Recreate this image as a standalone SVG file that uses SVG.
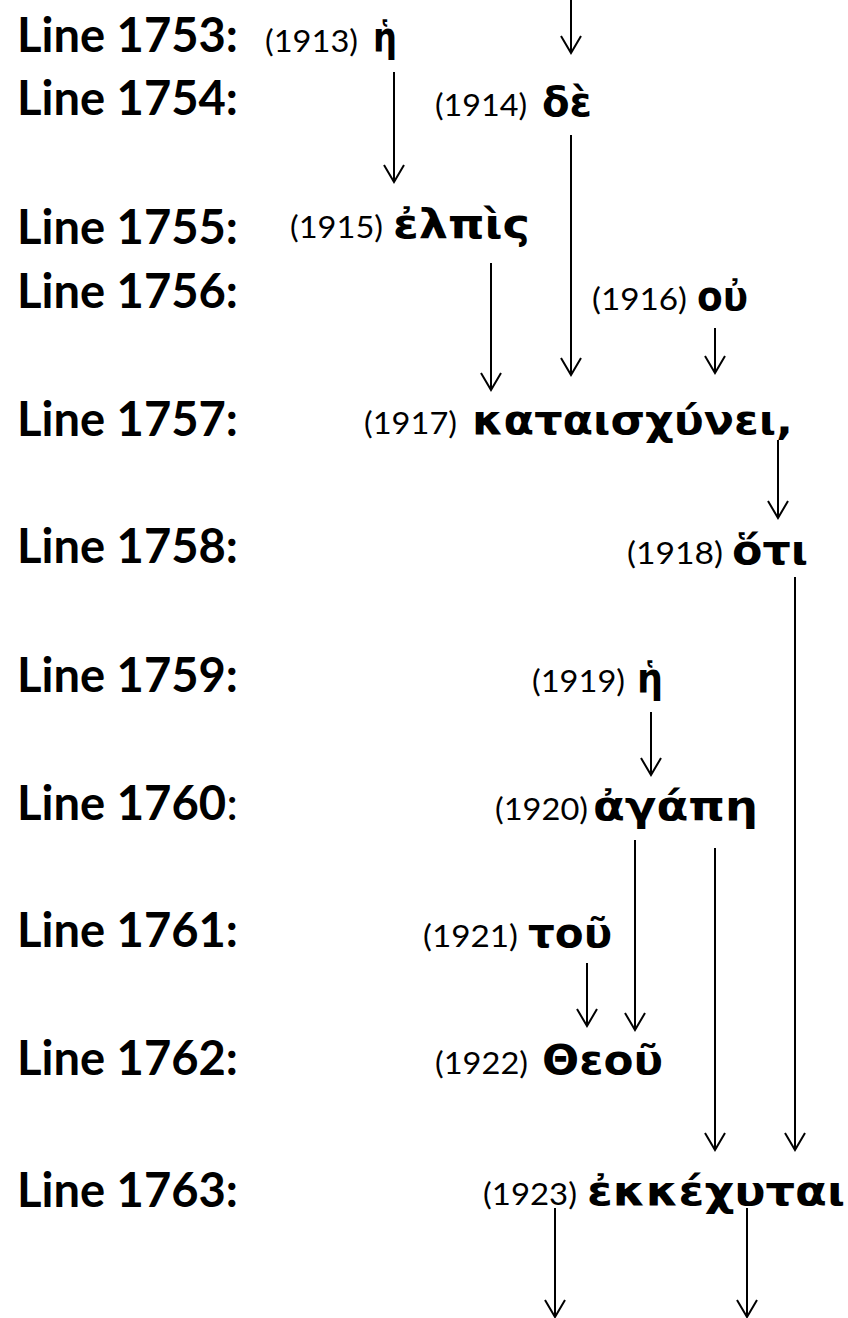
<svg xmlns="http://www.w3.org/2000/svg" width="848" height="1318" viewBox="0 0 848 1318">
<style>
.lbl{font-family:Lato,"Liberation Sans",Arial,sans-serif;font-weight:bold;font-size:47px;fill:#000}
.num{font-family:Lato,"Liberation Sans",Arial,sans-serif;font-size:31px;fill:#000}
.gk{font-family:"DejaVu Sans","Noto Sans",sans-serif;font-weight:bold;font-size:41px;fill:#000}
.arr{stroke:#000;stroke-width:2;fill:none;marker-end:url(#ah)}
</style>
<defs>
<marker id="ah" markerUnits="userSpaceOnUse" orient="auto" refX="0" refY="0" markerWidth="30" markerHeight="30" overflow="visible">
<path d="M-17,-10 L0,0 L-17,10" fill="none" stroke="#000" stroke-width="2"/>
</marker>
</defs>
<rect width="848" height="1318" fill="#fff"/>
<g id="labels">
<text class="lbl" x="17" y="52" textLength="221" lengthAdjust="spacingAndGlyphs">Line 1753:</text>
<text class="lbl" x="17" y="115" textLength="221" lengthAdjust="spacingAndGlyphs">Line 1754:</text>
<text class="lbl" x="17" y="244" textLength="221" lengthAdjust="spacingAndGlyphs">Line 1755:</text>
<text class="lbl" x="17" y="308" textLength="221" lengthAdjust="spacingAndGlyphs">Line 1756:</text>
<text class="lbl" x="17" y="436" textLength="221" lengthAdjust="spacingAndGlyphs">Line 1757:</text>
<text class="lbl" x="17" y="563" textLength="221" lengthAdjust="spacingAndGlyphs">Line 1758:</text>
<text class="lbl" x="17" y="692" textLength="221" lengthAdjust="spacingAndGlyphs">Line 1759:</text>
<text class="lbl" x="17" y="820" textLength="221" lengthAdjust="spacingAndGlyphs">Line 1760<tspan font-weight="normal">:</tspan></text>
<text class="lbl" x="17" y="947" textLength="221" lengthAdjust="spacingAndGlyphs">Line 1761:</text>
<text class="lbl" x="17" y="1075" textLength="221" lengthAdjust="spacingAndGlyphs">Line 1762:</text>
<text class="lbl" x="17" y="1207" textLength="221" lengthAdjust="spacingAndGlyphs">Line 1763:</text>
</g>
<g id="n1913">
<text class="num" x="265" y="52" textLength="93" lengthAdjust="spacingAndGlyphs">(1913)</text>
<text class="gk" x="373" y="51" textLength="24" lengthAdjust="spacingAndGlyphs">ἡ</text>
</g>
<g id="n1914">
<text class="num" x="435" y="116" textLength="92" lengthAdjust="spacingAndGlyphs">(1914)</text>
<text class="gk" x="542" y="116" textLength="50" lengthAdjust="spacingAndGlyphs">δὲ</text>
</g>
<g id="n1915">
<text class="num" x="290" y="238" textLength="93" lengthAdjust="spacingAndGlyphs">(1915)</text>
<text class="gk" x="393" y="238" textLength="137" lengthAdjust="spacingAndGlyphs">ἐλπὶς</text>
</g>
<g id="n1916">
<text class="num" x="592" y="310" textLength="95" lengthAdjust="spacingAndGlyphs">(1916)</text>
<text class="gk" x="697" y="310" textLength="51" lengthAdjust="spacingAndGlyphs">οὐ</text>
</g>
<g id="n1917">
<text class="num" x="364" y="434" textLength="93" lengthAdjust="spacingAndGlyphs">(1917)</text>
<text class="gk" x="472" y="434" textLength="321" lengthAdjust="spacingAndGlyphs">καταισχύνει,</text>
</g>
<g id="n1918">
<text class="num" x="627" y="564" textLength="96" lengthAdjust="spacingAndGlyphs">(1918)</text>
<text class="gk" x="732" y="564" textLength="76" lengthAdjust="spacingAndGlyphs">ὅτι</text>
</g>
<g id="n1919">
<text class="num" x="532" y="692" textLength="93" lengthAdjust="spacingAndGlyphs">(1919)</text>
<text class="gk" x="637" y="692" textLength="26" lengthAdjust="spacingAndGlyphs">ἡ</text>
</g>
<g id="n1920">
<text class="num" x="495" y="820" textLength="93" lengthAdjust="spacingAndGlyphs">(1920)</text>
<text class="gk" x="593" y="820" textLength="165" lengthAdjust="spacingAndGlyphs">ἀγάπη</text>
</g>
<g id="n1921">
<text class="num" x="423" y="947" textLength="95" lengthAdjust="spacingAndGlyphs">(1921)</text>
<text class="gk" x="528" y="947" textLength="84" lengthAdjust="spacingAndGlyphs">τοῦ</text>
</g>
<g id="n1922">
<text class="num" x="435" y="1074" textLength="93" lengthAdjust="spacingAndGlyphs">(1922)</text>
<text class="gk" x="542" y="1074" textLength="121" lengthAdjust="spacingAndGlyphs">Θεοῦ</text>
</g>
<g id="n1923">
<text class="num" x="483" y="1205" textLength="94" lengthAdjust="spacingAndGlyphs">(1923)</text>
<text class="gk" x="587" y="1205" textLength="258" lengthAdjust="spacingAndGlyphs">ἐκκέχυται</text>
</g>
<g id="connectors">
<path class="arr" d="M571,0 V53"/>
<path class="arr" d="M394,72 V182"/>
<path class="arr" d="M571,135 V375"/>
<path class="arr" d="M491,263 V390"/>
<path class="arr" d="M715,328 V373"/>
<path class="arr" d="M778,440 V518"/>
<path class="arr" d="M795,577 V1150"/>
<path class="arr" d="M651,712 V775"/>
<path class="arr" d="M635,840 V1030"/>
<path class="arr" d="M715,848 V1150"/>
<path class="arr" d="M587,963 V1026"/>
<path class="arr" d="M555,1208 V1317"/>
<path class="arr" d="M747,1208 V1317"/>
</g>
</svg>
